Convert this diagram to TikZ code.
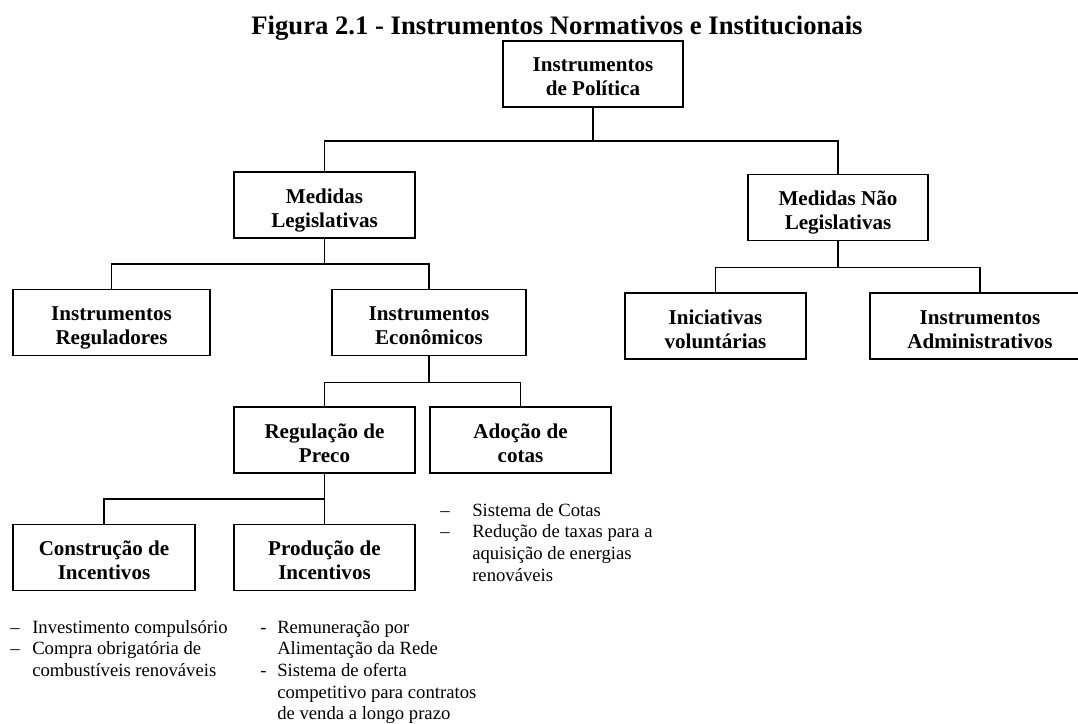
\documentclass[tikz,border=0pt]{standalone}
\usepackage{fontspec}
\setmainfont{Liberation Serif}
\usepackage{array}
\definecolor{FiguraInk}{HTML}{000000}
\tikzset{
  caixa/.style={draw=FiguraInk,line width=1.4pt,align=center,inner sep=0pt,
    font={\fontsize{15.8}{18}\selectfont\bfseries},text height=36pt,text depth=3pt,
    minimum height=66*0.75pt,minimum width=#1*0.75pt},
  lista/.style={anchor=base west,inner sep=0pt,text=FiguraInk,font={\fontsize{14}{16.3}\selectfont}},
  ramo/.style={draw=FiguraInk,line width=1.2pt}
}

\begin{document}
\begin{tikzpicture}[x=0.75pt,y=-0.75pt]
      \useasboundingbox (0,0) rectangle (1078,724);
      \node[anchor=base,font={\fontsize{20}{24}\selectfont\bfseries}] (titulo) at (557,35) {Figura 2.1 - Instrumentos Normativos e Institucionais};
      % caixas
      \node[caixa=180] (pol) at (593,74) {Instrumentos\\de Política};
      \node[caixa=181] (ml) at (324.5,205) {Medidas\\Legislativas};
      \node[caixa=180] (mnl) at (838,207.5) {Medidas Não\\Legislativas};
      \node[caixa=197] (ir) at (111.5,322.5) {Instrumentos\\Reguladores};
      \node[caixa=194] (ie) at (429,322.5) {Instrumentos\\Econômicos};
      \node[caixa=181] (iv) at (715.5,326) {Iniciativas\\voluntárias};
      \node[caixa=220] (ia) at (980,326) {Instrumentos\\Administrativos};
      \node[caixa=181] (rp) at (324.5,440) {Regulação de\\Preco};
      \node[caixa=181] (ac) at (520.5,440) {Adoção de\\cotas};
      \node[caixa=182] (ci) at (104,557.5) {Construção de\\Incentivos};
      \node[caixa=181] (pi) at (324.5,557.5) {Produção de\\Incentivos};
      % ligacoes
      \draw[ramo] (pol.south) -- ++(0,33) -| (ml.north);
      \draw[ramo] (pol.south) -- ++(0,33) -| (mnl.north);
      \draw[ramo] (ml.south) -- ++(0,25) -| (ir.north);
      \draw[ramo] (ml.south) -- ++(0,25) -| (ie.north);
      \draw[ramo] (mnl.south) -- ++(0,26) -| (iv.north);
      \draw[ramo] (mnl.south) -- ++(0,26) -| (ia.north);
      \draw[ramo] (ie.south) -- ++(0,26) -| (rp.north);
      \draw[ramo] (ie.south) -- ++(0,26) -| (ac.north);
      \draw[ramo] (rp.south) -- ++(0,25) -| (ci.north);
      \draw[ramo] (rp.south) -- ++(0,25) -| (pi.north);
      % listas
      \node[lista] (acLista) at (440,516) {\begin{tabular}[t]{@{}p{24pt}@{}l@{}}
        –&Sistema de Cotas\\
        –&Redução de taxas para a\\
        &aquisição de energias\\
        &renováveis
      \end{tabular}};
      \node[lista] (ciLista) at (10,633) {\begin{tabular}[t]{@{}p{16.5pt}@{}l@{}}
        –&Investimento compulsório\\
        –&Compra obrigatória de\\
        &combustíveis renováveis
      \end{tabular}};
      \node[lista] (piLista) at (260,633) {\begin{tabular}[t]{@{}p{12.75pt}@{}l@{}}
        -&Remuneração por\\
        &Alimentação da Rede\\
        -&Sistema de oferta\\
        &competitivo para contratos\\
        &de venda a longo prazo
      \end{tabular}};
    \end{tikzpicture}
\end{document}
